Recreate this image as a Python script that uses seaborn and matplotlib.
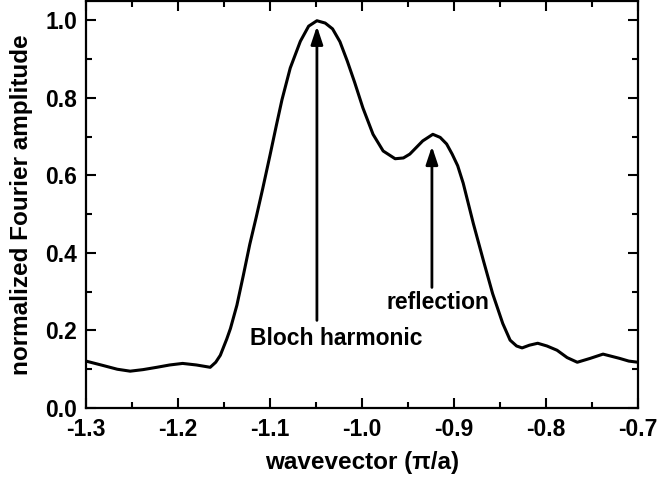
import matplotlib
matplotlib.use("Agg")
import matplotlib.pyplot as plt
import seaborn as sns
import pandas as pd
from matplotlib.ticker import MultipleLocator

wavevector = [-1.300, -1.282, -1.266, -1.252, -1.238, -1.223, -1.209, -1.195, -1.180,
              -1.165, -1.159, -1.154, -1.147, -1.143, -1.136, -1.129, -1.122, -1.115,
              -1.108, -1.100, -1.093, -1.087, -1.078, -1.067, -1.058, -1.049, -1.040,
              -1.032, -1.024, -1.016, -1.008, -0.999, -0.988, -0.977, -0.964, -0.955,
              -0.948, -0.934, -0.923, -0.915, -0.908, -0.902, -0.896, -0.890, -0.879,
              -0.868, -0.858, -0.847, -0.839, -0.832, -0.826, -0.818, -0.809, -0.799,
              -0.788, -0.777, -0.766, -0.752, -0.738, -0.720, -0.710, -0.700]
amplitude = [0.121, 0.110, 0.100, 0.095, 0.099, 0.105, 0.111, 0.115, 0.111,
             0.105, 0.118, 0.136, 0.178, 0.205, 0.265, 0.342, 0.422, 0.492,
             0.565, 0.652, 0.730, 0.795, 0.877, 0.946, 0.985, 0.999, 0.993,
             0.978, 0.945, 0.895, 0.840, 0.774, 0.706, 0.663, 0.643, 0.645,
             0.655, 0.689, 0.706, 0.698, 0.681, 0.655, 0.625, 0.580, 0.476,
             0.380, 0.295, 0.218, 0.175, 0.160, 0.155, 0.162, 0.167, 0.160,
             0.149, 0.130, 0.118, 0.128, 0.139, 0.128, 0.121, 0.118]

x_ticks = [-1.3, -1.2, -1.1, -1.0, -0.9, -0.8, -0.7]
y_ticks = [0.0, 0.2, 0.4, 0.6, 0.8, 1.0]

annotations = [
    ("Bloch harmonic", -1.049, 0.226, 0.985, -1.028, 0.18),
    ("reflection", -0.924, 0.311, 0.675, -0.918, 0.272),
]

sns.set_theme(style="ticks")
plt.rcParams['font.family'] = ['Liberation Sans', 'DejaVu Sans']
plt.rcParams['font.weight'] = 'bold'
plt.rcParams['text.color'] = 'black'
plt.rcParams['axes.labelcolor'] = 'black'
plt.rcParams['xtick.color'] = 'black'
plt.rcParams['ytick.color'] = 'black'

df = pd.DataFrame({"k": wavevector, "amp": amplitude})

fig = plt.figure(figsize=(6.58, 4.80), dpi=100)
ax = fig.add_axes([0.1307, 0.15, 0.8389, 0.848])
sns.lineplot(data=df, x="k", y="amp", ax=ax, color="black", linewidth=2.2)
for ln in ax.lines:
    ln.set_solid_joinstyle('round')

ax.set_xlim(-1.3, -0.7)
ax.set_ylim(0, 1.05)
ax.set_xticks(x_ticks)
ax.set_yticks(y_ticks)
ax.xaxis.set_minor_locator(MultipleLocator(0.05))
ax.yaxis.set_minor_locator(MultipleLocator(0.1))
ax.set_xticklabels([f"{v:.1f}" for v in x_ticks], fontsize=16.5, fontweight='bold', color='black')
ax.set_yticklabels([f"{v:.1f}" for v in y_ticks], fontsize=16.5, fontweight='bold', color='black')
ax.tick_params(which='both', direction='in', top=True, right=True, width=1.5,
               color='black', labelcolor='black')
ax.tick_params(which='major', length=7, pad=6.5)
ax.tick_params(axis='x', which='major', pad=7.5)
ax.tick_params(which='minor', length=4.5)
for s in ax.spines.values():
    s.set_linewidth(1.6)
    s.set_color('black')

ax.set_xlabel("wavevector (π/a)", fontsize=17.5, fontweight='bold', labelpad=7, color='black')
ax.set_ylabel("normalized Fourier amplitude", fontsize=17.5, fontweight='bold', labelpad=9, color='black')

for text, xa, y0, y1, tx, ty in annotations:
    ax.annotate("", xy=(xa, y1), xytext=(xa, y0),
                arrowprops=dict(arrowstyle="-|>,head_length=0.9,head_width=0.3",
                                color="black", lw=2.0, shrinkA=0, shrinkB=0))
    ax.text(tx, ty, text, ha="center", va="center", fontsize=16.5, fontweight='bold', color='black')

fig.savefig("out.png", dpi=100)
